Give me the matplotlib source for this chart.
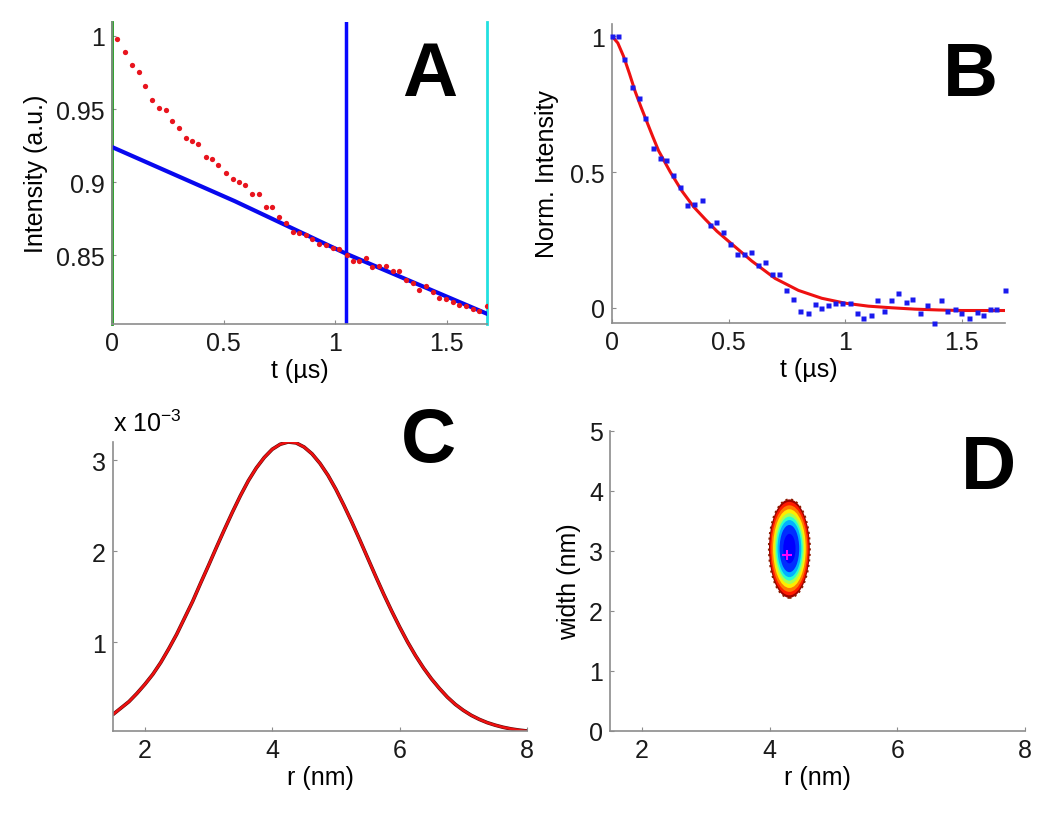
import matplotlib.pyplot as plt
from matplotlib.patches import Ellipse
from matplotlib.ticker import FuncFormatter

# ---- Panel A: raw signal with background fit ----
a_t = [0.021, 0.058, 0.091, 0.121, 0.148, 0.178, 0.211, 0.241, 0.268, 0.300,
       0.330, 0.360, 0.387, 0.420, 0.450, 0.477, 0.510, 0.540, 0.570, 0.596,
       0.629, 0.659, 0.689, 0.719, 0.749, 0.779, 0.809, 0.839, 0.868, 0.898,
       0.928, 0.958, 0.988, 1.018, 1.052, 1.078, 1.108, 1.138, 1.167, 1.197,
       1.227, 1.257, 1.287, 1.317, 1.347, 1.377, 1.407, 1.436, 1.466, 1.496,
       1.526, 1.556, 1.586, 1.616, 1.646, 1.680]
a_int = [0.998, 0.989, 0.980, 0.975, 0.966, 0.956, 0.951, 0.949, 0.942, 0.937,
         0.930, 0.928, 0.926, 0.917, 0.916, 0.912, 0.906, 0.902, 0.900, 0.898,
         0.892, 0.892, 0.883, 0.883, 0.876, 0.872, 0.866, 0.865, 0.864, 0.861,
         0.858, 0.857, 0.855, 0.854, 0.850, 0.846, 0.846, 0.848, 0.842, 0.843,
         0.843, 0.839, 0.839, 0.833, 0.831, 0.826, 0.829, 0.825, 0.821, 0.820,
         0.818, 0.816, 0.815, 0.813, 0.812, 0.815]
bg_t = [0.0, 0.55, 1.05, 1.68]
bg_int = [0.924, 0.887, 0.851, 0.810]
start_t, cut_t, end_t = 0.0, 1.047, 1.68

# ---- Panel B: background-corrected form factor with fit ----
b_t = [0.000, 0.026, 0.052, 0.086, 0.116, 0.143, 0.176, 0.205, 0.233, 0.262,
       0.290, 0.322, 0.352, 0.386, 0.419, 0.448, 0.476, 0.508, 0.536, 0.565,
       0.598, 0.627, 0.658, 0.688, 0.717, 0.748, 0.777, 0.805, 0.841, 0.870,
       0.898, 0.927, 0.956, 0.987, 1.020, 1.049, 1.077, 1.110, 1.139, 1.167,
       1.199, 1.227, 1.260, 1.289, 1.320, 1.352, 1.382, 1.411, 1.439, 1.471,
       1.499, 1.531, 1.564, 1.592, 1.621, 1.649, 1.685]
b_int = [1.000, 1.002, 0.917, 0.812, 0.773, 0.700, 0.589, 0.553, 0.544, 0.489,
         0.443, 0.377, 0.381, 0.397, 0.306, 0.315, 0.279, 0.236, 0.199, 0.199,
         0.205, 0.159, 0.167, 0.125, 0.125, 0.064, 0.031, -0.010, -0.018, 0.015,
         -0.002, 0.010, 0.018, 0.018, 0.018, -0.018, -0.039, -0.027, 0.027, -0.010,
         0.027, 0.053, 0.022, 0.034, -0.018, 0.010, -0.055, 0.027, -0.012, -0.006,
         -0.018, -0.039, -0.015, -0.027, -0.006, -0.006, 0.064]
fit_t = [0.0, 0.025, 0.05, 0.075, 0.1, 0.125, 0.15, 0.175, 0.2, 0.25, 0.3, 0.35,
         0.4, 0.45, 0.5, 0.6, 0.7, 0.8, 0.9, 1.0, 1.1, 1.2, 1.3, 1.4, 1.5, 1.6, 1.69]
fit_int = [1.0, 0.975, 0.925, 0.862, 0.795, 0.738, 0.684, 0.630, 0.578, 0.500,
           0.430, 0.372, 0.326, 0.282, 0.245, 0.172, 0.108, 0.064, 0.035, 0.017,
           0.006, 0.000, -0.005, -0.008, -0.010, -0.010, -0.010]

# ---- Panel C: distance distribution (units of 1e-3) ----
r_nm = [1.5, 1.625, 1.75, 1.875, 2.0, 2.125, 2.25, 2.375, 2.5, 2.625, 2.75, 2.875,
        3.0, 3.125, 3.25, 3.375, 3.5, 3.625, 3.75, 3.875, 4.0, 4.125, 4.25, 4.375,
        4.5, 4.625, 4.75, 4.875, 5.0, 5.125, 5.25, 5.375, 5.5, 5.625, 5.75, 5.875,
        6.0, 6.125, 6.25, 6.375, 6.5, 6.625, 6.75, 6.875, 7.0, 7.125, 7.25, 7.375,
        7.5, 7.625, 7.75, 7.875, 8.0]
p_r = [0.21, 0.28, 0.35, 0.44, 0.54, 0.65, 0.78, 0.93, 1.09, 1.27, 1.45, 1.65,
       1.845, 2.045, 2.24, 2.43, 2.61, 2.775, 2.915, 3.03, 3.12, 3.175, 3.20, 3.19,
       3.145, 3.07, 2.965, 2.835, 2.68, 2.505, 2.32, 2.125, 1.925, 1.725, 1.53, 1.345,
       1.17, 1.005, 0.855, 0.72, 0.60, 0.495, 0.40, 0.32, 0.255, 0.20, 0.156, 0.12,
       0.092, 0.069, 0.051, 0.038, 0.028]
p_scale = 1e-3

# ---- Panel D: misfit map over (r, width) ----
blob_r, blob_w = 4.31, 3.04
blob_half_r, blob_half_w = 0.32, 0.82
ring_frac = [1.0, 0.95, 0.88, 0.80, 0.72, 0.65, 0.58, 0.48, 0.30]
ring_level = [0.97, 0.88, 0.78, 0.66, 0.55, 0.40, 0.30, 0.17, 0.12]
best_r, best_w = 4.28, 2.93

W, H = 1050, 820
fig = plt.figure(figsize=(W / 100, H / 100), dpi=100)
plt.rcParams['font.family'] = ['Liberation Sans', 'DejaVu Sans']

axis_grey = '#8c8c8c'
fs = 18


def add_ax(left, top, right, bottom):
    ax = fig.add_axes([left / W, 1 - bottom / H, (right - left) / W, (bottom - top) / H])
    for s in ['top', 'right']:
        ax.spines[s].set_visible(False)
    for s in ['left', 'bottom']:
        ax.spines[s].set_color(axis_grey)
        ax.spines[s].set_linewidth(1.2)
    ax.tick_params(direction='in', length=3, color=axis_grey, labelsize=fs,
                   labelcolor='#1a1a1a', pad=5)
    ax.xaxis.set_major_formatter(FuncFormatter(lambda v, p: '%g' % v))
    ax.yaxis.set_major_formatter(FuncFormatter(lambda v, p: '%g' % round(v, 6)))
    return ax


def letter(x, y, s):
    fig.text(x / W, 1 - y / H, s, fontsize=55, fontweight='bold', ha='center', va='center')


# A
axA = add_ax(112, 23, 487, 325)
axA.axvline(start_t, color='#1a9a1a', lw=2, clip_on=False)
axA.axvline(cut_t, color='#0808ff', lw=2.5)
axA.axvline(end_t, color='#22e0e0', lw=2, clip_on=False)
axA.plot(bg_t, bg_int, color='#0808ee', lw=3)
axA.plot(a_t, a_int, 'o', color='#e8141e', ms=3.8, mec='none')
axA.set_xlim(0, 1.68)
axA.set_ylim(0.803, 1.0095)
axA.set_xticks([0, 0.5, 1, 1.5])
axA.set_yticks([0.85, 0.9, 0.95, 1])
axA.set_xlabel('t (µs)', fontsize=fs, labelpad=2)
axA.set_ylabel('Intensity (a.u.)', fontsize=fs, labelpad=6)
letter(430, 77, 'A')

# B
axB = add_ax(612, 25, 1005, 324)
axB.plot(fit_t, fit_int, color='#ee1111', lw=2.2, zorder=2)
axB.plot(b_t, b_int, 's', color='#1a1aee', ms=3.6, mec='none', zorder=3, clip_on=False)
axB.set_xlim(0, 1.686)
axB.set_ylim(-0.056, 1.045)
axB.set_xticks([0, 0.5, 1, 1.5])
axB.set_yticks([0, 0.5, 1])
axB.set_xlabel('t (µs)', fontsize=fs, labelpad=2)
axB.set_ylabel('Norm. Intensity', fontsize=fs, labelpad=8)
letter(970, 77, 'B')

# C
axC = add_ax(113, 443, 527, 732)
p_abs = [p * p_scale for p in p_r]
axC.plot(r_nm, p_abs, color='#5a0a0a', lw=2.6, solid_capstyle='round')
axC.plot(r_nm, p_abs, color='#f01010', lw=1.8, solid_capstyle='round')
axC.set_xlim(1.5, 8)
axC.set_ylim(min(p_abs), max(p_abs))
axC.set_xticks([2, 4, 6, 8])
axC.set_yticks([p_scale * v for v in [1, 2, 3]])
axC.yaxis.set_major_formatter(FuncFormatter(lambda v, p: '%g' % round(v / p_scale, 6)))
axC.set_xlabel('r (nm)', fontsize=fs, labelpad=2)
axC.text(0.0, 1.02, 'x 10$^{\\mathregular{-3}}$', transform=axC.transAxes, fontsize=fs,
         ha='left', va='bottom')
letter(429, 443, 'C')

# D
axD = add_ax(610, 432, 1025, 732)
jet = plt.cm.jet
for frac, lev in zip(ring_frac, ring_level):
    axD.add_patch(Ellipse((blob_r, blob_w), 2 * blob_half_r * frac, 2 * blob_half_w * frac,
                          facecolor=jet(lev), edgecolor='none'))
axD.add_patch(Ellipse((blob_r, blob_w), 2 * blob_half_r, 2 * blob_half_w,
                      facecolor='none', edgecolor='#8b1a00', lw=1.5, ls=':'))
axD.plot([best_r], [best_w], '+', color='#ff00ff', ms=7, mew=1.5)
axD.set_xlim(1.5, 8)
axD.set_ylim(0, 5)
axD.set_xticks([2, 4, 6, 8])
axD.set_yticks([0, 1, 2, 3, 4, 5])
axD.set_xlabel('r (nm)', fontsize=fs, labelpad=2)
axD.set_ylabel('width (nm)', fontsize=fs, labelpad=6)
letter(988, 470, 'D')

fig.savefig('out.png', dpi=100)
